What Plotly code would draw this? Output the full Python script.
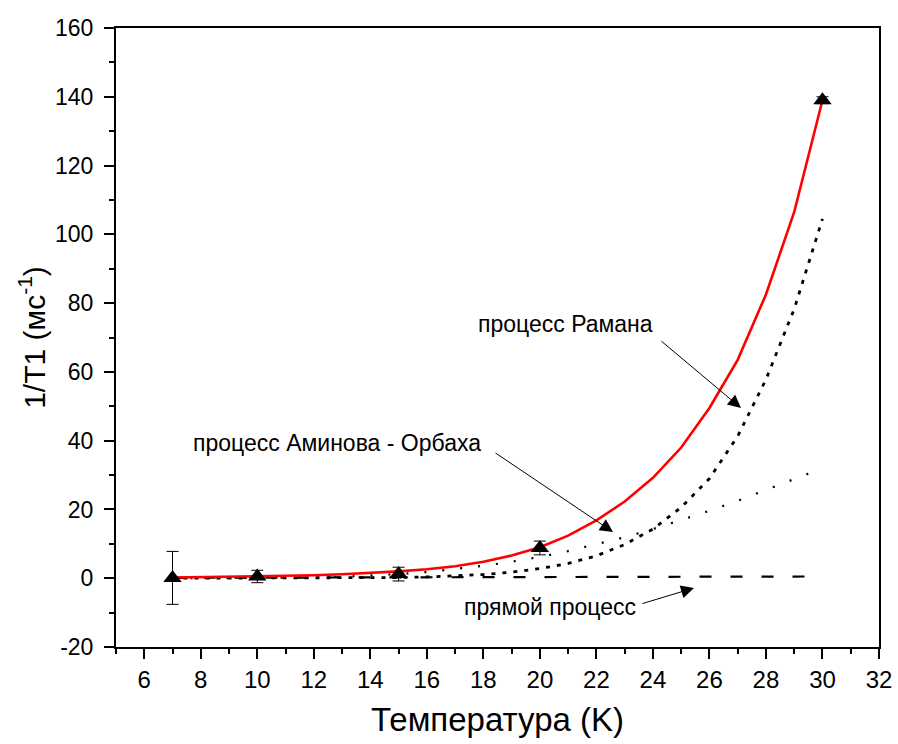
import plotly.graph_objects as go

# Measured relaxation rates
t_meas = [7, 10, 15, 20, 30]
rate_meas = [0.1, 0.5, 1.2, 8.8, 139.0]
rate_err = [7.7, 1.8, 2.0, 2.0, 1.0]

# Fit components on an integer temperature grid
t_fit = list(range(7, 31))
rate_total = [0.2, 0.3, 0.4, 0.5, 0.65, 0.85, 1.15, 1.5, 2.0, 2.6, 3.5, 4.8,
              6.6, 9.0, 12.4, 16.8, 22.3, 29.2, 38.0, 49.5, 63.5, 82.5, 106.5, 139.0]
rate_raman = [0.0, 0.0, 0.001, 0.003, 0.008, 0.02, 0.04, 0.08, 0.2, 0.37, 0.64, 1.07,
              1.75, 2.8, 4.3, 6.5, 9.8, 14.3, 20.6, 29.0, 41.3, 57.8, 78.3, 104.5]
rate_orbach = [0.0, 0.004, 0.015, 0.045, 0.11, 0.23, 0.43, 0.75, 1.2, 1.8, 2.6, 3.6,
               4.8, 6.2, 7.9, 9.8, 11.9, 14.3, 16.9, 19.6, 22.5, 25.6, 28.8, 32.0]
rate_direct = [0.12, 0.14, 0.15, 0.17, 0.19, 0.2, 0.22, 0.24, 0.26, 0.27, 0.29, 0.31,
               0.32, 0.34, 0.36, 0.37, 0.39, 0.41, 0.42, 0.44, 0.46, 0.47, 0.49, 0.51]

x_ticks = list(range(6, 33, 2))
y_ticks = list(range(-20, 161, 20))
y_tick_text = ["-20", "0", "20", "40", "60", "80", "100", "120", "140", "160"]

# plot area in pixels
L, R, T, B = 116, 879, 28, 647
W, H = R - L, B - T

fig = go.Figure()

fig.add_trace(go.Scatter(x=t_fit, y=rate_direct, mode="lines",
                         line=dict(color="black", width=2.2, dash="12px,19px")))
fig.add_trace(go.Scatter(x=t_fit, y=rate_orbach, mode="lines",
                         line=dict(color="black", width=2.2, dash="2px,16px")))
fig.add_trace(go.Scatter(x=t_fit, y=rate_raman, mode="lines",
                         line=dict(color="black", width=2.8, dash="4px,7px")))
fig.add_trace(go.Scatter(x=t_fit, y=rate_total, mode="lines",
                         line=dict(color="#ff0000", width=2.6)))
fig.add_trace(go.Scatter(x=t_meas, y=rate_meas, mode="markers",
                         marker=dict(symbol="triangle-up", size=16, color="black"),
                         error_y=dict(type="data", array=rate_err, color="black",
                                      thickness=1, width=6)))

arrow_font = dict(family="Liberation Sans, Arial, sans-serif", size=23, color="black")
notes = [
    ("процесс Рамана", 565, 324, 660, 340, 741, 408),
    ("процесс Аминова - Орбаха", 337, 443, 494, 452, 613, 532),
    ("прямой процесс", 550, 607, 641, 604, 694, 588),
]
for text, tx, ty, x0, y0, x1, y1 in notes:
    fig.add_annotation(text=text, xref="paper", yref="paper",
                       x=(tx - L) / W, y=1 - (ty - T) / H,
                       xanchor="center", yanchor="middle",
                       showarrow=False, font=arrow_font)
    fig.add_annotation(text="", xref="paper", yref="paper",
                       axref="pixel", ayref="pixel",
                       x=(x1 - L) / W, y=1 - (y1 - T) / H,
                       ax=x0 - x1, ay=y0 - y1,
                       showarrow=True, arrowhead=2, arrowsize=2.6,
                       arrowwidth=1, arrowcolor="black")

axis_common = dict(showline=True, linecolor="black", linewidth=2, mirror=True,
                   ticks="outside", ticklen=10, tickwidth=2, tickcolor="black",
                   showgrid=False, zeroline=False, automargin=False)

fig.update_xaxes(range=[5, 32], tickvals=x_ticks,
                 minor=dict(ticks="outside", ticklen=5, tickwidth=2, dtick=1,
                            tick0=5, tickcolor="black"),
                 tickfont=dict(family="Liberation Sans, Arial, sans-serif",
                               size=24, color="black"),
                 ticklabelstandoff=0,
                 title=dict(text="Температура (K)", standoff=16,
                            font=dict(family="Liberation Sans, Arial, sans-serif",
                                      size=33, color="black")),
                 **axis_common)
fig.update_yaxes(range=[-20, 160], tickvals=y_ticks, ticktext=y_tick_text,
                 minor=dict(ticks="outside", ticklen=5, tickwidth=2, dtick=10,
                            tick0=-20, tickcolor="black"),
                 tickfont=dict(family="Liberation Sans, Arial, sans-serif", size=23, color="black"),
                 ticklabelstandoff=6,
                 title=dict(text="1/T1 (мс<sup>-1</sup>)", standoff=1,
                            font=dict(family="Liberation Sans, Arial, sans-serif", size=30, color="black")),
                 **axis_common)

fig.update_layout(width=898, height=744, showlegend=False,
                  plot_bgcolor="white", paper_bgcolor="white",
                  margin=dict(l=L, r=898 - R, t=T, b=744 - B))

fig.write_html("out.html")
